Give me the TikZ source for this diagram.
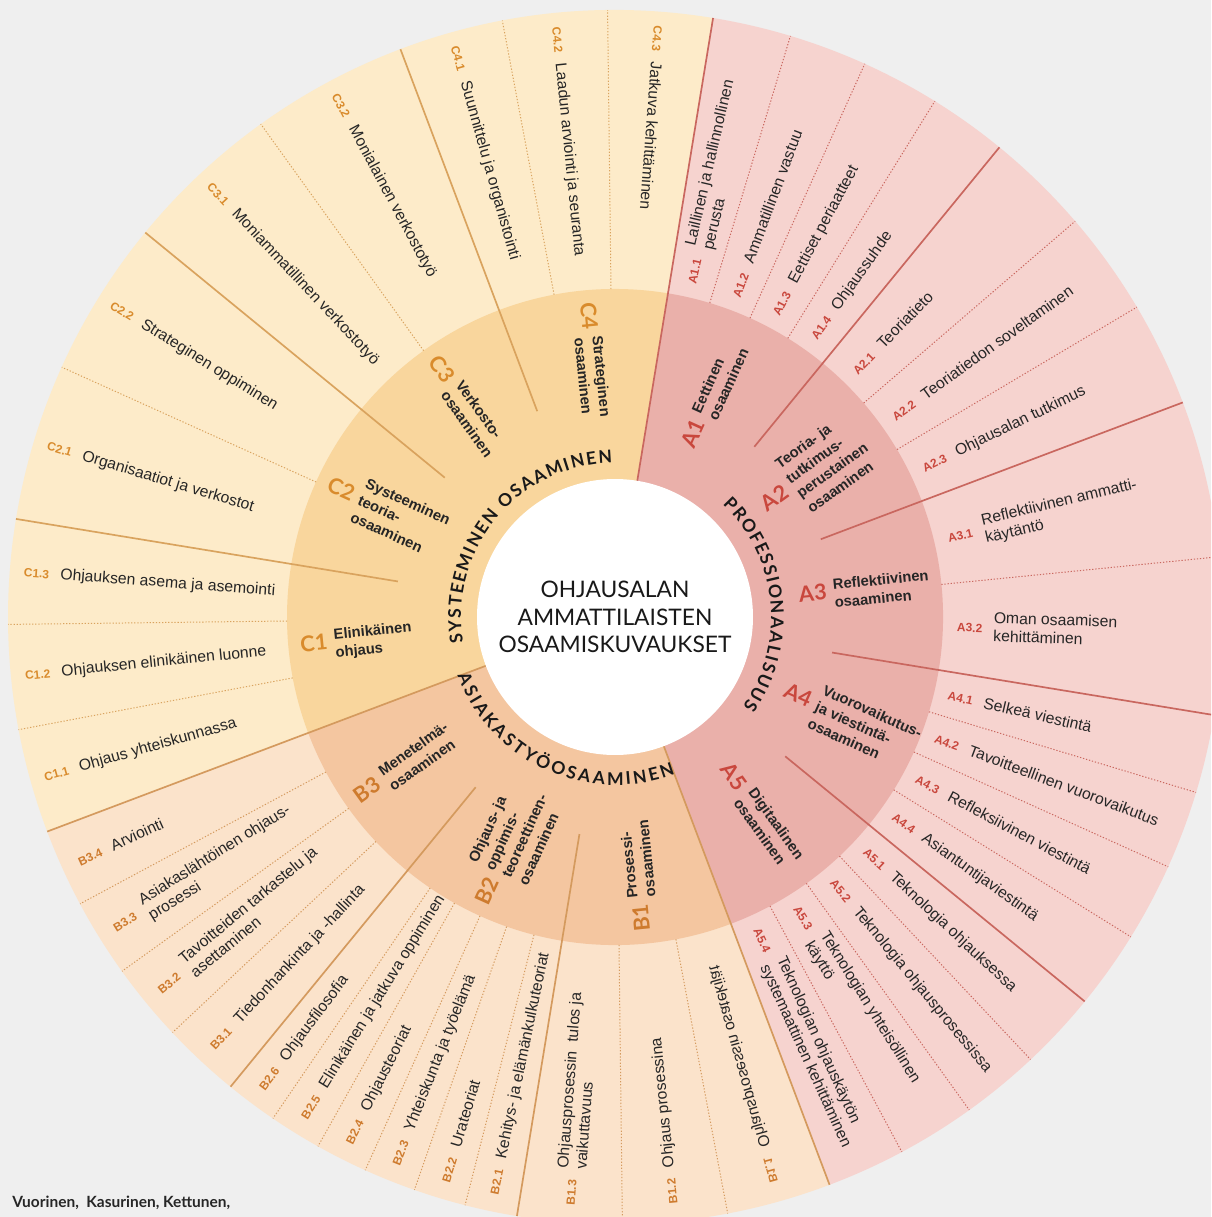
\documentclass[tikz,border=0pt]{standalone}
\usepackage{fontspec}
\setmainfont{Liberation Sans}
\newfontfamily\latofont{Lato}

\definecolor{bgray}{HTML}{EFEFEF}
\definecolor{aout}{HTML}{F6D3CF}
\definecolor{amid}{HTML}{EAB0AA}
\definecolor{bout}{HTML}{FBE3CB}
\definecolor{bmid}{HTML}{F4C6A0}
\definecolor{cout}{HTML}{FDEBC9}
\definecolor{cmid}{HTML}{F9D69D}
\definecolor{atxt}{HTML}{C9473D}
\definecolor{btxt}{HTML}{CE7B2E}
\definecolor{ctxt}{HTML}{D98B2C}
\definecolor{aline}{HTML}{C9675F}
\definecolor{bline}{HTML}{D49A5E}
\definecolor{cline}{HTML}{D9A35E}

\newcommand{\codefont}{\fontsize{8.5}{9}\selectfont\bfseries}
\newcommand{\codeA}[1]{{\color{atxt}\codefont#1}\hspace{8pt}}
\newcommand{\codeB}[1]{{\color{btxt}\codefont#1}\hspace{8pt}}
\newcommand{\codeC}[1]{{\color{ctxt}\codefont#1}\hspace{8pt}}
\newcommand{\catfont}{\latofont\bfseries\fontsize{15.5}{15.5}\selectfont}
\newcommand{\catA}[1]{{\color{atxt}\catfont#1}\hspace{5pt}}
\newcommand{\catB}[1]{{\color{btxt}\catfont#1}\hspace{5pt}}
\newcommand{\catC}[1]{{\color{ctxt}\catfont#1}\hspace{5pt}}
\newcommand{\twoline}[2]{\begin{tabular}{@{}l@{}}#1\\#2\end{tabular}}

% letters of the ring titles: letter/width in em, spaced along the arc
\newcommand{\ringfont}{\latofont\bfseries\fontsize{12.5}{13}\selectfont}
\newcommand{\ringtrack}{1.7}
\newcommand{\ringtitle}[5]{%
	\gdef\ringsum{0}%
	\foreach \ch/\cw in {#1} {%
		\pgfmathsetmacro\ringtmp{\ringsum+\cw*12.5+\ringtrack}%
		\xdef\ringsum{\ringtmp}%
	}%
	\gdef\ringacc{0}%
	\foreach \ch/\cw [count=\i] in {#1} {%
		\pgfmathsetmacro\ringang{#2+(#4)*((\ringsum-\ringtrack)/2-\ringacc-\cw*6.25)/((#3+(#4)*6)*0.7115)*57.2958}%
		\node[ringlet, rotate=\ringang-(#4)*90] (#5\i) at (\ringang:#3) {\ch};%
		\pgfmathsetmacro\ringtmp{\ringacc+\cw*12.5+\ringtrack}%
		\xdef\ringacc{\ringtmp}%
	}%
}

\tikzset{
	itemtxt/.style={inner sep=0pt, anchor=west, text=black!85, font=\fontsize{11.2}{13}\selectfont},
	outA/.style={itemtxt, rotate=#1},
	outBC/.style={itemtxt, rotate=#1+180},
	cattxt/.style={inner sep=0pt, anchor=west, text=black!85, font=\bfseries\fontsize{10.5}{13}\selectfont},
	midA/.style={cattxt, rotate=#1},
	midBC/.style={cattxt, rotate=#1+180},
	ringlet/.style={inner sep=0pt, anchor=base, text=black!90, font=\ringfont},
	dotA/.style={aline, line width=0.7pt, dash pattern=on 0.9pt off 1.3pt},
	dotB/.style={bline, line width=0.7pt, dash pattern=on 0.9pt off 1.3pt},
	dotC/.style={cline, line width=0.7pt, dash pattern=on 0.9pt off 1.3pt},
	solA/.style={aline, line width=1.2pt},
	solB/.style={bline, line width=1.2pt},
	solC/.style={cline, line width=1.2pt}
}

\begin{document}
\begin{tikzpicture}[x=0.025cm, y=0.025cm]
\useasboundingbox (-615,-600) rectangle (596,617);
\clip (-615,-600) rectangle (596,617);
\fill[bgray] (-615,-600) rectangle (596,617);

% outer ring
\fill[cout] (0,0) -- (80.7:607) arc[start angle=80.7, end angle=200.7, radius=607] -- cycle;
\fill[aout] (0,0) -- (-69.3:607) arc[start angle=-69.3, end angle=80.7, radius=607] -- cycle;
\fill[bout] (0,0) -- (-159.3:607) arc[start angle=-159.3, end angle=-69.3, radius=607] -- cycle;
% middle ring
\fill[cmid] (0,0) -- (80.7:328) arc[start angle=80.7, end angle=200.7, radius=328] -- cycle;
\fill[amid] (0,0) -- (-69.3:328) arc[start angle=-69.3, end angle=80.7, radius=328] -- cycle;
\fill[bmid] (0,0) -- (-159.3:328) arc[start angle=-159.3, end angle=-69.3, radius=328] -- cycle;

% dotted dividers
\foreach \a in {73.2,65.7,58.2,40.7,30.7,5.7,-16.8,-24.3,-31.8,-46.8,-54.3,-61.8}
	\draw[dotA] (\a:328) -- (\a:607);
\foreach \a in {-79.3,-89.3,-104.3,-109.3,-114.3,-119.3,-124.3,-136.8,-144.3,-151.8}
	\draw[dotB] (\a:328) -- (\a:607);
\foreach \a in {190.7,180.7,155.7,125.7,100.7,90.7}
	\draw[dotC] (\a:328) -- (\a:607);

% category lines
\foreach \a in {50.7,20.7,-9.3,-39.3} \draw[solA] (\a:220) -- (\a:607);
\foreach \a in {-99.3,-129.3} \draw[solB] (\a:220) -- (\a:607);
\foreach \a in {170.7,140.7,110.7} \draw[solC] (\a:220) -- (\a:607);
% section lines
\draw[solA] (80.7:138) -- (80.7:607);
\draw[solB] (-69.3:138) -- (-69.3:607);
\draw[solB] (200.7:138) -- (200.7:607);

% centre
\fill[white] (0,0) circle[radius=138];
\node[align=center, text=black!90, font=\latofont\fontsize{16.2}{19.5}\selectfont] (title) at (0,0)
	{OHJAUSALAN\\AMMATTILAISTEN\\OSAAMISKUVAUKSET};

% ring titles
\ringtitle{S/.53,Y/.64,S/.53,T/.60,E/.56,E/.56,M/.90,I/.29,N/.76,E/.56,N/.76,~/.22,O/.80,S/.53,A/.70,A/.70,M/.90,I/.29,N/.76,E/.56,N/.76}{140.3}{154}{1}{sys}
\ringtitle{P/.62,R/.63,O/.80,F/.53,E/.56,S/.53,S/.53,I/.29,O/.80,N/.76,A/.70,A/.70,L/.49,I/.29,S/.53,U/.73,U/.73,S/.53}{5.7}{156}{1}{pro}
\ringtitle{A/.70,S/.53,I/.29,A/.70,K/.66,A/.70,S/.53,T/.60,Y/.64,Ö/.80,O/.80,S/.53,A/.70,A/.70,M/.90,I/.29,N/.76,E/.56,N/.76}{245.7}{168}{-1}{asi}

% A categories
\node[midA=65.7] (A1) at (65.7:185) {\catA{A1}\twoline{Eettinen}{osaaminen}};
\node[midA=35.7] (A2) at (35.7:185) {\catA{A2}\begin{tabular}{@{}l@{}}Teoria- ja\\tutkimus-\\perustainen\\osaaminen\end{tabular}};
\node[midA=5.7] (A3) at (5.7:185) {\catA{A3}\twoline{Reflektiivinen}{osaaminen}};
\node[midA=-24.3] (A4) at (-24.3:185) {\catA{A4}\begin{tabular}{@{}l@{}}Vuorovaikutus-\\ja viestintä-\\osaaminen\end{tabular}};
\node[midA=-54.3] (A5) at (-54.3:185) {\catA{A5}\twoline{Digitaalinen}{osaaminen}};
% B categories
\node[midBC=-84.3] (B1) at (-84.3:316) {\catB{B1}\twoline{Prosessi-}{osaaminen}};
\node[midBC=-114.3] (B2) at (-114.3:316) {\catB{B2}\begin{tabular}{@{}l@{}}Ohjaus- ja\\oppimis-\\teoreettinen-\\osaaminen\end{tabular}};
\node[midBC=-144.3] (B3) at (-144.3:316) {\catB{B3}\twoline{Menetelmä-}{osaaminen}};
% C categories
\node[midBC=185.7] (C1) at (185.7:316) {\catC{C1}\twoline{Elinikäinen}{ohjaus}};
\node[midBC=155.7] (C2) at (155.7:316) {\catC{C2}\begin{tabular}{@{}l@{}}Systeeminen\\teoria-\\osaaminen\end{tabular}};
\node[midBC=125.7] (C3) at (125.7:316) {\catC{C3}\twoline{Verkosto-}{osaaminen}};
\node[midBC=95.7] (C4) at (95.7:316) {\catC{C4}\twoline{Strateginen}{osaaminen}};

% A items
\node[outA=76.95] (a11) at (76.95:342) {\codeA{A1.1}\twoline{Laillinen ja hallinnollinen}{perusta}};
\node[outA=69.45] (a12) at (69.45:342) {\codeA{A1.2}Ammatillinen vastuu};
\node[outA=61.95] (a13) at (61.95:342) {\codeA{A1.3}Eettiset periaatteet};
\node[outA=54.45] (a14) at (54.45:342) {\codeA{A1.4}Ohjaussuhde};
\node[outA=45.7] (a21) at (45.7:342) {\codeA{A2.1}Teoriatieto};
\node[outA=35.7] (a22) at (35.7:342) {\codeA{A2.2}Teoriatiedon soveltaminen};
\node[outA=25.7] (a23) at (25.7:342) {\codeA{A2.3}Ohjausalan tutkimus};
\node[outA=13.2] (a31) at (13.2:342) {\codeA{A3.1}\twoline{Reflektiivinen ammatti-}{käytäntö}};
\node[outA=-1.8] (a32) at (-1.8:342) {\codeA{A3.2}\twoline{Oman osaamisen}{kehittäminen}};
\node[outA=-13.05] (a41) at (-13.05:342) {\codeA{A4.1}Selkeä viestintä};
\node[outA=-20.55] (a42) at (-20.55:342) {\codeA{A4.2}Tavoitteellinen vuorovaikutus};
\node[outA=-28.05] (a43) at (-28.05:342) {\codeA{A4.3}Refleksiivinen viestintä};
\node[outA=-35.55] (a44) at (-35.55:342) {\codeA{A4.4}Asiantuntijaviestintä};
\node[outA=-43.05] (a51) at (-43.05:342) {\codeA{A5.1}Teknologia ohjauksessa};
\node[outA=-50.55] (a52) at (-50.55:342) {\codeA{A5.2}Teknologia ohjausprosessissa};
\node[outA=-58.05] (a53) at (-58.05:342) {\codeA{A5.3}\twoline{Teknologian yhteisöllinen}{käyttö}};
\node[outA=-65.55] (a54) at (-65.55:342) {\codeA{A5.4}\twoline{Teknologian ohjauskäytön}{systemaattinen kehittäminen}};

% B items
\node[outBC=-74.3, yscale=-1] (b11) at (-74.3:588) {\codeB{B1.1}Ohjausprosessin osatekijät};
\node[outBC=-84.3] (b12) at (-84.3:590) {\codeB{B1.2}Ohjaus prosessina};
\node[outBC=-94.3] (b13) at (-94.3:590) {\codeB{B1.3}\twoline{Ohjausprosessin~ tulos ja}{vaikuttavuus}};
\node[outBC=-101.8] (b21) at (-101.8:590) {\codeB{B2.1}Kehitys- ja elämänkulkuteoriat};
\node[outBC=-106.8] (b22) at (-106.8:590) {\codeB{B2.2}Urateoriat};
\node[outBC=-111.8] (b23) at (-111.8:590) {\codeB{B2.3}Yhteiskunta ja työelämä};
\node[outBC=-116.8] (b24) at (-116.8:590) {\codeB{B2.4}Ohjausteoriat};
\node[outBC=-121.8] (b25) at (-121.8:590) {\codeB{B2.5}Elinikäinen ja jatkuva oppiminen};
\node[outBC=-126.8] (b26) at (-126.8:590) {\codeB{B2.6}Ohjausfilosofia};
\node[outBC=-133.05] (b31) at (-133.05:590) {\codeB{B3.1}Tiedonhankinta ja -hallinta};
\node[outBC=-140.55] (b32) at (-140.55:590) {\codeB{B3.2}\twoline{Tavoitteiden tarkastelu ja}{asettaminen}};
\node[outBC=-148.05] (b33) at (-148.05:590) {\codeB{B3.3}\twoline{Asiakaslähtöinen ohjaus-}{prosessi}};
\node[outBC=-155.55] (b34) at (-155.55:590) {\codeB{B3.4}Arviointi};

% C items
\node[outBC=195.7] (c11) at (195.7:593) {\codeC{C1.1}Ohjaus yhteiskunnassa};
\node[outBC=185.7] (c12) at (185.7:593) {\codeC{C1.2}Ohjauksen elinikäinen luonne};
\node[outBC=175.7] (c13) at (175.7:593) {\codeC{C1.3}Ohjauksen asema ja asemointi};
\node[outBC=163.2] (c21) at (163.2:593) {\codeC{C2.1}Organisaatiot ja verkostot};
\node[outBC=148.2] (c22) at (148.2:593) {\codeC{C2.2}Strateginen oppiminen};
\node[outBC=133.2] (c31) at (133.2:593) {\codeC{C3.1}Moniammatillinen verkostotyö};
\node[outBC=118.2] (c32) at (118.2:593) {\codeC{C3.2}Monialainen verkostotyö};
\node[outBC=105.7] (c41) at (105.7:593) {\codeC{C4.1}Suunnittelu ja organistointi};
\node[outBC=95.7] (c42) at (95.7:593) {\codeC{C4.2}Laadun arviointi ja seuranta};
\node[outBC=85.7] (c43) at (85.7:593) {\codeC{C4.3}Jatkuva kehittäminen};

% source
\node[anchor=base west, inner sep=0pt, text=black!85, font=\latofont\bfseries\fontsize{11}{13}\selectfont] (source) at (-603,-590)
	{Vuorinen,~ Kasurinen, Kettunen,};
\end{tikzpicture}
\end{document}
